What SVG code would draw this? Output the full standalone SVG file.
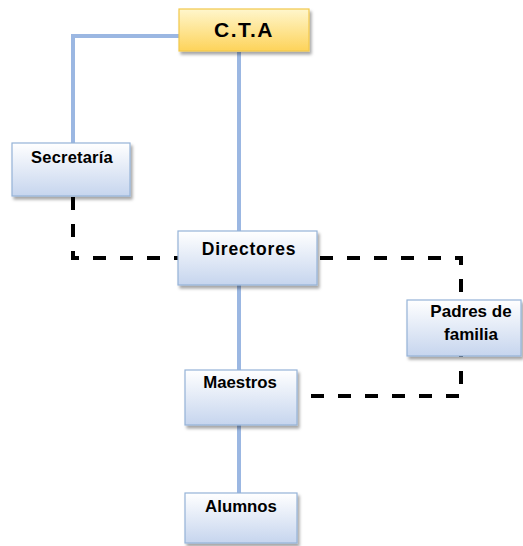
<svg xmlns="http://www.w3.org/2000/svg" width="523" height="546" viewBox="0 0 523 546">
<defs>
<linearGradient id="gBlue" x1="0" y1="0" x2="0" y2="1">
<stop offset="0" stop-color="#ffffff"/>
<stop offset="1" stop-color="#c6d5ee"/>
</linearGradient>
<linearGradient id="gGold" x1="0" y1="0" x2="0" y2="1">
<stop offset="0" stop-color="#fff6cc"/>
<stop offset="1" stop-color="#fdd35a"/>
</linearGradient>
<filter id="sh" x="-10%" y="-10%" width="130%" height="140%">
<feDropShadow dx="2" dy="3" stdDeviation="1.6" flood-color="#000" flood-opacity="0.35"/>
</filter>
</defs>
<style>
.box{fill:url(#gBlue);stroke:#95b3d7;stroke-width:1.2;filter:url(#sh)}
.gold{fill:url(#gGold);stroke:#f2c94c;stroke-width:1.2;filter:url(#sh)}
.t{font-family:"Liberation Sans",Arial,sans-serif;font-weight:bold;fill:#000;text-anchor:middle}
.solid{fill:none;stroke:#9bb7e2;stroke-width:4}
.dash{fill:none;stroke:#000;stroke-width:4;stroke-dasharray:13 14}
</style>
<rect width="523" height="546" fill="#fff"/>
<g id="connectors">
<polyline class="solid" points="179,36 73,36 73,143"/>
<line class="solid" x1="239" y1="52" x2="239" y2="231"/>
<line class="solid" x1="239" y1="285" x2="239" y2="370"/>
<line class="solid" x1="239" y1="425" x2="239" y2="493"/>
<polyline class="dash" points="73,197 73,258 178,258"/>
<polyline class="dash" points="320,258 461,258 461,300"/>
<polyline class="dash" points="311,396 461,396 461,356"/>
</g>
<g id="cta">
<rect class="gold" x="179" y="9" width="130" height="42"/>
<text class="t" x="244" y="37" font-size="21" letter-spacing="1.5">C.T.A</text>
</g>
<g id="secretaria">
<rect class="box" x="12" y="143" width="118" height="53"/>
<text class="t" x="72" y="163" font-size="16.5" letter-spacing="0.2">Secretaría</text>
</g>
<g id="directores">
<rect class="box" x="178" y="231" width="139" height="54"/>
<text class="t" x="249" y="255" font-size="17.5" letter-spacing="0.8">Directores</text>
</g>
<g id="padres">
<rect class="box" x="407" y="300" width="114" height="56"/>
<text class="t" x="471" y="317" font-size="17">Padres de</text>
<text class="t" x="471" y="340" font-size="17">familia</text>
</g>
<g id="maestros">
<rect class="box" x="185" y="370" width="112" height="55"/>
<text class="t" x="240" y="388" font-size="16.8">Maestros</text>
</g>
<g id="alumnos">
<rect class="box" x="185" y="493" width="112" height="50"/>
<text class="t" x="241" y="512" font-size="16.8">Alumnos</text>
</g>
</svg>
